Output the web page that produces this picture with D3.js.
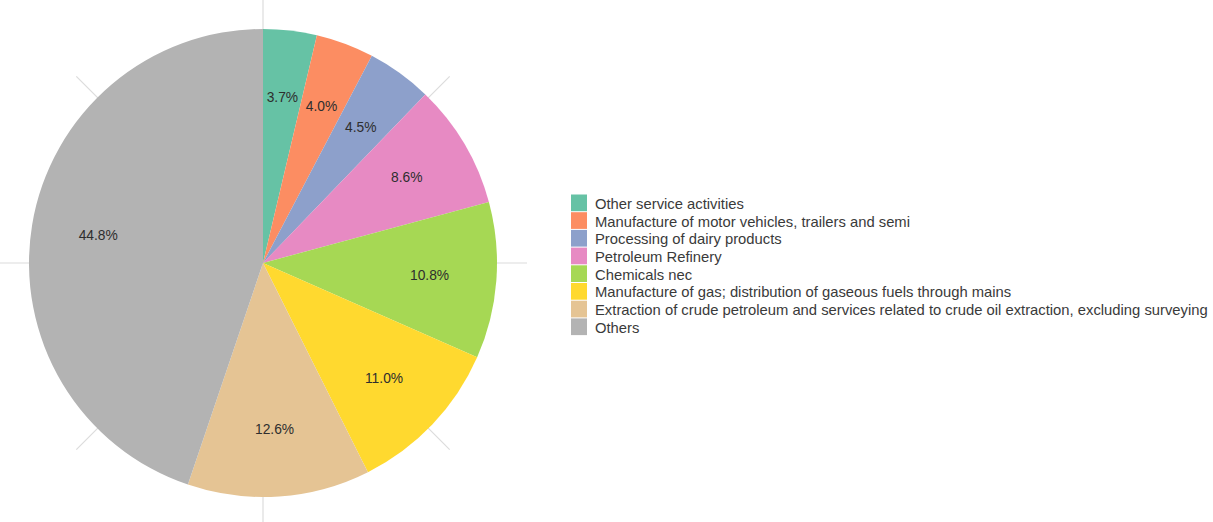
<!DOCTYPE html>
<html>
<head>
<meta charset="utf-8">
<script src="https://cdn.jsdelivr.net/npm/d3@7"></script>
<style>
  html, body { margin: 0; padding: 0; background: #fff; }
  svg { display: block; }
</style>
</head>
<body>
<svg id="chart" width="1213" height="522"></svg>
<script>
const categories = [
  "Other service activities",
  "Manufacture of motor vehicles, trailers and semi",
  "Processing of dairy products",
  "Petroleum Refinery",
  "Chemicals nec",
  "Manufacture of gas; distribution of gaseous fuels through mains",
  "Extraction of crude petroleum and services related to crude oil extraction, excluding surveying",
  "Others"
];
const shares = [3.7, 4.0, 4.5, 8.6, 10.8, 11.0, 12.6, 44.8];
const colors = ["#66c2a5", "#fc8d62", "#8da0cb", "#e78ac3", "#a6d854", "#ffd92f", "#e5c494", "#b3b3b3"];
const gridAngles = [0, 45, 90, 135, 180, 225, 270, 315];

const svg = d3.select("#chart");
const cx = 263, cy = 263, R = 234, gridR = 264;

const g = svg.append("g").attr("transform", `translate(${cx},${cy})`);

// polar grid lines
g.selectAll("line.grid").data(gridAngles).join("line")
  .attr("class", "grid")
  .attr("x1", 0).attr("y1", 0)
  .attr("x2", d => gridR * Math.sin(d * Math.PI / 180))
  .attr("y2", d => -gridR * Math.cos(d * Math.PI / 180))
  .attr("stroke", "#dcdcdc").attr("stroke-width", 1.2);

const color = d3.scaleOrdinal().domain(categories).range(colors);
const pie = d3.pie().sort(null).value(d => d.v);
const data = pie(categories.map((c, i) => ({ c, v: shares[i] })));
const arc = d3.arc().innerRadius(0).outerRadius(R);
const labelArc = d3.arc().innerRadius(167).outerRadius(167);

g.selectAll("path.slice").data(data).join("path")
  .attr("class", "slice")
  .attr("d", arc)
  .attr("fill", d => color(d.data.c));

g.selectAll("text.lbl").data(data).join("text")
  .attr("class", "lbl")
  .attr("transform", d => `translate(${labelArc.centroid(d)})`)
  .attr("text-anchor", "middle")
  .attr("dominant-baseline", "central")
  .attr("font-family", "Liberation Sans, Arial, sans-serif")
  .attr("font-size", "13.8px")
  .attr("fill", "#2e2e2e")
  .text(d => d3.format(".1f")(d.data.v) + "%");

// legend
const lg = svg.append("g").attr("transform", "translate(571,194)");
const rowH = 17.7;
const rows = lg.selectAll("g.row").data(categories).join("g")
  .attr("class", "row")
  .attr("transform", (d, i) => `translate(0,${i * rowH})`);
rows.append("rect")
  .attr("x", 0).attr("y", 0.5)
  .attr("width", 16).attr("height", rowH - 1)
  .attr("fill", d => color(d));
rows.append("text")
  .attr("x", 24).attr("y", rowH / 2 + 1)
  .attr("dominant-baseline", "central")
  .attr("font-family", "Liberation Sans, Arial, sans-serif")
  .attr("font-size", "14.8px")
  .attr("fill", "#3a3a3a")
  .text(d => d);
</script>
</body>
</html>
